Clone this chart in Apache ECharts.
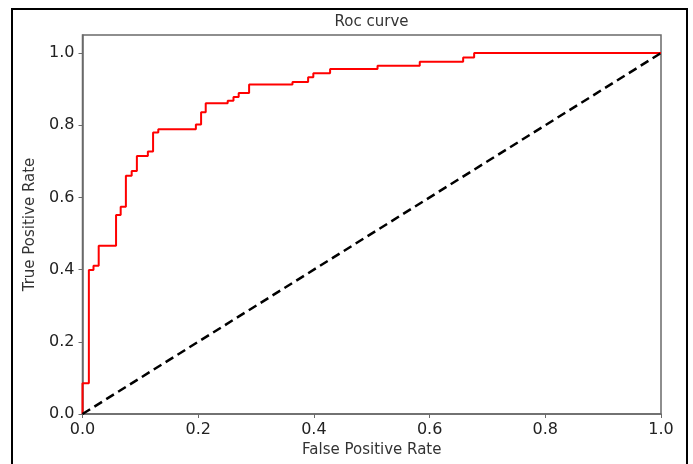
<!DOCTYPE html>
<html>
<head>
<meta charset="utf-8">
<script src="https://cdn.jsdelivr.net/npm/echarts@6/dist/echarts.min.js"></script>
<style>html,body{margin:0;padding:0;background:#fff}#c{width:693px;height:464px}</style>
</head>
<body>
<div id="c"></div>
<script>
// ROC curve vertices (step at end)
var fpr = [0, 0, 0.011, 0.019, 0.028, 0.058, 0.066, 0.075, 0.085, 0.094,
           0.113, 0.122, 0.131, 0.196, 0.205, 0.213, 0.251, 0.261, 0.270, 0.288,
           0.363, 0.390, 0.399, 0.428, 0.510, 0.583, 0.658, 0.677, 1.0];
var tpr = [0, 0.085, 0.399, 0.411, 0.466, 0.551, 0.574, 0.660, 0.673, 0.715,
           0.727, 0.780, 0.789, 0.802, 0.836, 0.861, 0.868, 0.878, 0.889, 0.913,
           0.920, 0.933, 0.944, 0.956, 0.965, 0.976, 0.988, 1.0, 1.0];
var diagX = [0, 1];
var diagY = [0, 1];
var xTicks = [0, 0.2, 0.4, 0.6, 0.8, 1.0];
var yTicks = [0, 0.2, 0.4, 0.6, 0.8, 1.0];

var chart = echarts.init(document.getElementById('c'), null, {renderer: 'canvas'});
var FONT = 'DejaVu Sans';
var rocData = fpr.map(function (v, i) { return [v, tpr[i]]; });
var diagData = diagX.map(function (v, i) { return [v, diagY[i]]; });

chart.setOption({
  animation: false,
  backgroundColor: '#fff',
  grid: {left: 82.5, right: 32, top: 35, bottom: 50, show: true, borderColor: '#6a6a6a', borderWidth: 1.5, backgroundColor: 'transparent'},
  xAxis: {
    type: 'value', min: 0, max: 1, interval: 0.2,
    name: 'False Positive Rate', nameLocation: 'middle', nameGap: 29,
    nameTextStyle: {fontFamily: FONT, fontSize: 15, color: '#333'},
    axisLine: {show: true, lineStyle: {color: '#6a6a6a', width: 1.5}},
    axisTick: {show: true, length: 4, inside: false, lineStyle: {color: '#6a6a6a', width: 1}, customValues: xTicks},
    axisLabel: {fontFamily: FONT, fontSize: 16, color: '#222', margin: 8, customValues: xTicks,
      formatter: function (v) { return v.toFixed(1); }},
    splitLine: {show: false}
  },
  yAxis: {
    type: 'value', min: 0, max: 1.05,
    name: 'True Positive Rate', nameLocation: 'middle', nameGap: 45,
    nameTextStyle: {fontFamily: FONT, fontSize: 15, color: '#333'},
    axisLine: {show: true, lineStyle: {color: '#6a6a6a', width: 1.5}},
    axisTick: {show: true, length: 4, inside: false, lineStyle: {color: '#6a6a6a', width: 1}, customValues: yTicks},
    axisLabel: {fontFamily: FONT, fontSize: 16, color: '#222', margin: 8, customValues: yTicks,
      formatter: function (v) { return v.toFixed(1); }},
    splitLine: {show: false}
  },
  graphic: [
    {type: 'rect', shape: {x: 12, y: 9, width: 675, height: 480}, style: {fill: 'none', stroke: '#000', lineWidth: 2}, silent: true},
    {type: 'text', x: 371.5, y: 22, style: {text: 'Roc curve', fontFamily: FONT, fontSize: 15, fill: '#333', textAlign: 'center', textVerticalAlign: 'middle'}}
  ],
  series: [
    {type: 'line', data: rocData, step: 'end', symbol: 'none', lineStyle: {color: '#ff0000', width: 2}, z: 3},
    {type: 'line', data: diagData, symbol: 'none', lineStyle: {color: '#000', width: 2.5, type: [9, 5]}, z: 4}
  ]
});
</script>
</body>
</html>
